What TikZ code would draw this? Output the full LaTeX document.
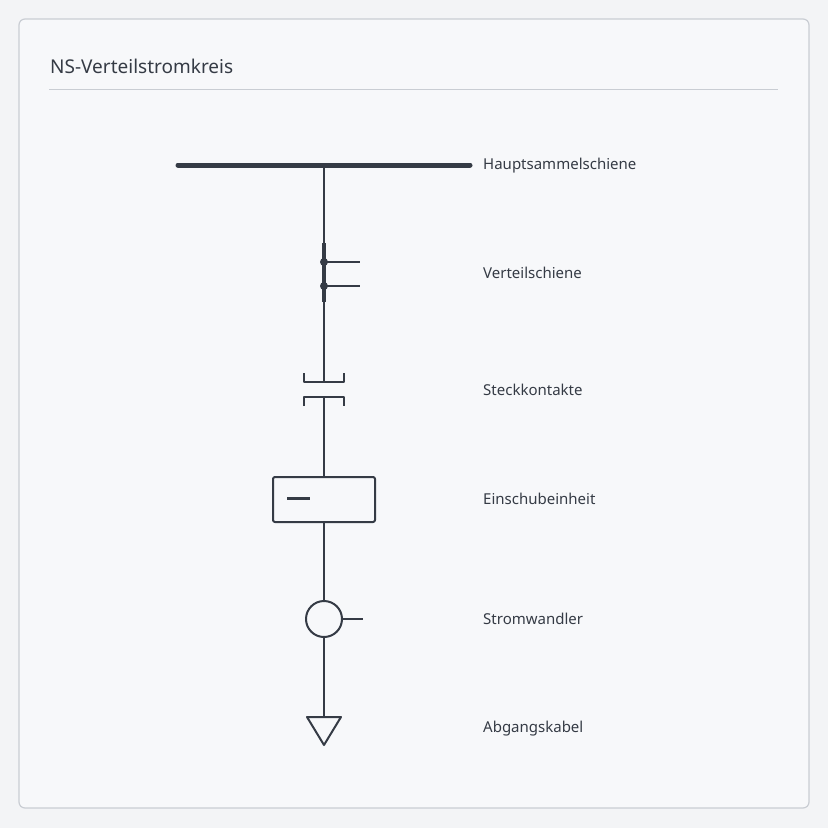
\documentclass[tikz,border=0pt]{standalone}
\usepackage{fontspec}
\setmainfont{Noto Sans}
\usetikzlibrary{positioning}
\definecolor{ink}{HTML}{353B45}
\definecolor{frame}{HTML}{C9CDD3}
\definecolor{paper}{HTML}{F7F8FA}
\definecolor{page}{HTML}{F3F4F6}

\begin{document}
\begin{tikzpicture}[x=1pt,y=-1pt,line join=round]
    \tikzstyle{wire}=[draw=ink,line width=2pt]
    \tikzstyle{bus}=[draw=ink,line width=5pt,line cap=round]
    \tikzstyle{label}=[anchor=west,text=ink,font=\fontsize{15}{17}\selectfont,inner sep=0pt]

    % Background and panel
    \useasboundingbox[fill=page] (0,0) rectangle (828,828);
    \draw[frame,fill=paper,line width=1.2pt,rounded corners=6pt] (19,19) rectangle (809,808);
    \node[anchor=west,text=ink,font=\fontsize{19}{21}\selectfont,inner sep=0pt] (title) at (50,66) {NS-Verteilstromkreis};
    \draw[frame,line width=1pt] (49,89) -- (778,89);

    % Main busbar
    \draw[bus] (178,165) -- (470,165);
    \coordinate (top) at (324,165);

    % Distribution rail
    \coordinate (vs-a) at (324,243);
    \coordinate (vs-b) at (324,302);
    \draw[wire] (top) -- (vs-a);
    \draw[draw=ink,line width=4pt] (vs-a) -- (vs-b);
    \foreach \y in {262,286} {
        \fill[ink] (324,\y) circle (4pt);
        \draw[wire,line width=1.6pt] (324,\y) -- (360,\y);
    }

    % Plug contacts
    \coordinate (sk-a) at (324,382);
    \coordinate (sk-b) at (324,397);
    \draw[wire] (vs-b) -- (sk-a);
    \draw[wire] (304,373) -- (304,382) -- (344,382) -- (344,373);
    \draw[wire] (304,406) -- (304,397) -- (344,397) -- (344,406);

    % Withdrawable unit
    \node[wire,rectangle,rounded corners=2pt,minimum width=102pt,minimum height=45pt,inner sep=0pt] (unit) at (324,499.5) {};
    \draw[draw=ink,line width=3pt] (287,498) -- (310,498);
    \draw[wire] (sk-b) -- (unit.north);

    % Current transformer
    \node[wire,circle,minimum size=36pt,inner sep=0pt] (ct) at (324,619) {};
    \coordinate (ct-r) at (363,619);
    \draw[wire] (unit.south) -- (ct.north);
    \draw[wire] (ct.east) -- (ct-r);

    % Outgoing cable
    \coordinate (cab) at (324,717);
    \draw[wire] (ct.south) -- (cab);
    \draw[wire] (307,717) -- (341,717) -- (324,745) -- cycle;

    % Annotations
    \node[label] (l-bus) at (483,166) {Hauptsammelschiene};
    \node[label] (l-vs) at (483,273) {Verteilschiene};
    \node[label] (l-sk) at (483,390) {Steckkontakte};
    \node[label] (l-unit) at (483,499) {Einschubeinheit};
    \node[label] (l-ct) at (483,619) {Stromwandler};
    \node[label] (l-cab) at (483,729) {Abgangskabel};
\end{tikzpicture}
\end{document}
